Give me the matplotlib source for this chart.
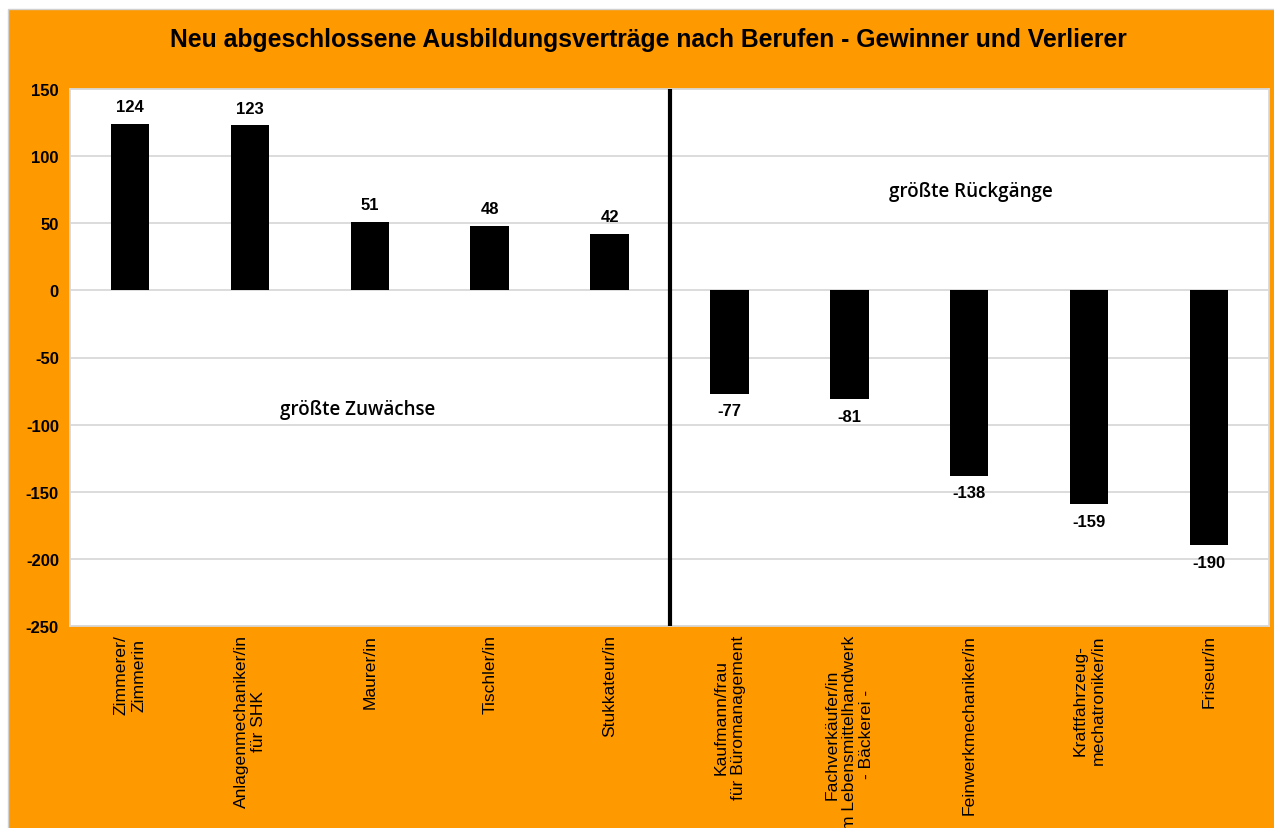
import matplotlib.pyplot as plt
from matplotlib.patches import Rectangle

berufe = ['Zimmerer/\nZimmerin', 'Anlagenmechaniker/in\nfür SHK', 'Maurer/in', 'Tischler/in',
          'Stukkateur/in', 'Kaufmann/frau\nfür Büromanagement',
          'Fachverkäufer/in\nim Lebensmittelhandwerk\n- Bäckerei -', 'Feinwerkmechaniker/in',
          'Kraftfahrzeug-\nmechatroniker/in', 'Friseur/in']
veraenderung = [124, 123, 51, 48, 42, -77, -81, -138, -159, -190]
y_ticks = [150, 100, 50, 0, -50, -100, -150, -200, -250]

orange = '#ff9900'

fig = plt.figure(figsize=(12.74, 8.29), dpi=100)
fig.patches.append(Rectangle((8 / 1274, -0.01), 1, 1.01 - 10 / 829, transform=fig.transFigure,
                             facecolor=orange, edgecolor='#d0d0d0', linewidth=1, zorder=-10))

ax = fig.add_axes([70 / 1274, 1 - 627 / 829, 1199 / 1274, 537 / 829])
x = list(range(len(berufe)))
ax.bar(x, veraenderung, width=0.32, color='black', zorder=3)
ax.set_xlim(-0.5, len(berufe) - 0.5)
ax.set_ylim(-250, 150)
ax.set_yticks(y_ticks)
ax.set_yticklabels([str(t) for t in y_ticks], fontsize=12, fontweight='bold', family='Liberation Sans')
ax.set_xticks(x)
ax.set_xticklabels(berufe, rotation=90, fontsize=12.6, family='Liberation Sans',
                   ha='center', va='top', multialignment='center')
ax.tick_params(length=0, pad=8)
ax.tick_params(axis='x', pad=6)
ax.grid(axis='y', color='#d9d9d9', linewidth=1.3, zorder=0)
for s in ax.spines.values():
    s.set_color('#d9d9d9')
    s.set_linewidth(1.3)

for xi, v in zip(x, veraenderung):
    if v >= 0:
        ax.annotate(str(v), (xi, v), xytext=(0, 7), textcoords='offset points', ha='center', va='bottom',
                    fontsize=12, fontweight='bold', family='Liberation Sans')
    else:
        ax.annotate(str(v), (xi, v), xytext=(0, -7), textcoords='offset points', ha='center', va='top',
                    fontsize=12, fontweight='bold', family='Liberation Sans')

# Trennlinie zwischen Gewinnern und Verlierern
ax.axvline(4.5, color='black', linewidth=3, zorder=4)

ax.text(1.9, -88, 'größte Zuwächse', fontsize=13.5, fontweight='semibold', family='Open Sans',
        ha='center', va='center')
ax.text(7.01, 74, 'größte Rückgänge', fontsize=13.5, fontweight='semibold', family='Open Sans',
        ha='center', va='center')

fig.text(648 / 1274, 1 - 40 / 829, 'Neu abgeschlossene Ausbildungsverträge nach Berufen - Gewinner und Verlierer',
         fontsize=17.8, fontweight='bold', family='Liberation Sans', ha='center', va='center')

fig.savefig('out.png', dpi=100, facecolor='white')
